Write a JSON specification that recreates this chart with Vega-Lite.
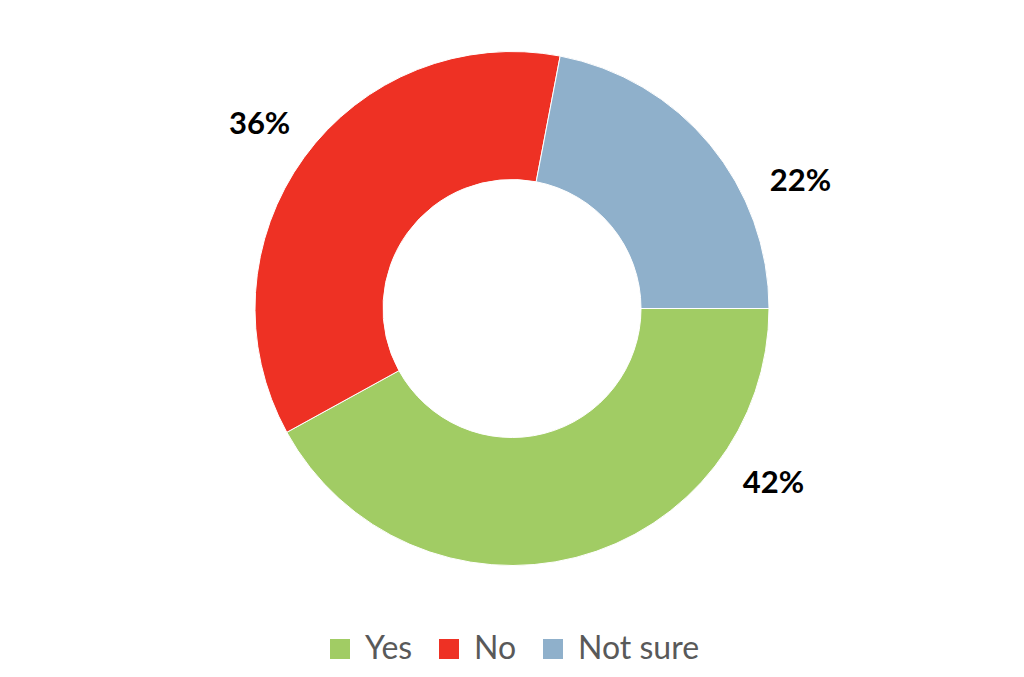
{
  "$schema": "https://vega.github.io/schema/vega-lite/v6.json",
  "width": 1024,
  "height": 677,
  "autosize": {"type": "fit", "contains": "padding"},
  "padding": {"top": 0, "left": 0, "right": 0, "bottom": 12},
  "background": "white",
  "view": {"stroke": null},
  "config": {"legend": {"layout": {"bottom": {"anchor": "middle"}}}},
  "data": {
    "values": [
      {"answer": "Yes", "share": 42, "label": "42%", "rank": 1},
      {"answer": "No", "share": 36, "label": "36%", "rank": 2},
      {"answer": "Not sure", "share": 22, "label": "22%", "rank": 3}
    ]
  },
  "transform": [
    {"stack": "share", "groupby": [], "sort": [{"field": "rank", "order": "ascending"}], "as": ["s0", "s1"]},
    {"calculate": "(datum.s0 + datum.s1) / 2", "as": "mid"}
  ],
  "encoding": {
    "color": {
      "field": "answer",
      "type": "nominal",
      "sort": ["Yes", "No", "Not sure"],
      "scale": {"domain": ["Yes", "No", "Not sure"], "range": ["#A1CC64", "#EE3124", "#8FB0CB"]},
      "legend": {
        "title": null,
        "orient": "bottom",
        "direction": "horizontal",
        "symbolType": "square",
        "symbolSize": 400,
        "symbolStrokeWidth": 0,
        "symbolOpacity": 1,
        "labelFont": "Lato",
        "labelFontSize": 32,
        "labelColor": "#595959",
        "columnPadding": 20,
        "labelOffset": 9,
        "offset": 16
      }
    }
  },
  "layer": [
    {
      "mark": {"type": "arc", "outerRadius": 257, "innerRadius": 129, "stroke": "white", "strokeWidth": 1},
      "encoding": {
        "theta": {"field": "s0", "type": "quantitative", "scale": {"domain": [0, 100], "range": [1.5707963, 7.8539816]}},
        "theta2": {"field": "s1"}
      }
    },
    {
      "transform": [{"filter": "datum.answer === 'No'"}],
      "mark": {"type": "text", "radius": 312, "font": "Lato", "fontWeight": "bold", "fontSize": 31},
      "encoding": {
        "theta": {"field": "mid", "type": "quantitative"},
        "text": {"field": "label"},
        "color": {"value": "black"}
      }
    },
    {
      "transform": [{"filter": "datum.answer === 'Not sure'"}],
      "mark": {"type": "text", "radius": 315, "thetaOffset": 0.2775, "font": "Lato", "fontWeight": "bold", "fontSize": 31},
      "encoding": {
        "theta": {"field": "mid", "type": "quantitative"},
        "text": {"field": "label"},
        "color": {"value": "black"}
      }
    },
    {
      "transform": [{"filter": "datum.answer === 'Yes'"}],
      "mark": {"type": "text", "radius": 315, "thetaOffset": -0.728, "font": "Lato", "fontWeight": "bold", "fontSize": 31},
      "encoding": {
        "theta": {"field": "mid", "type": "quantitative"},
        "text": {"field": "label"},
        "color": {"value": "black"}
      }
    }
  ]
}
